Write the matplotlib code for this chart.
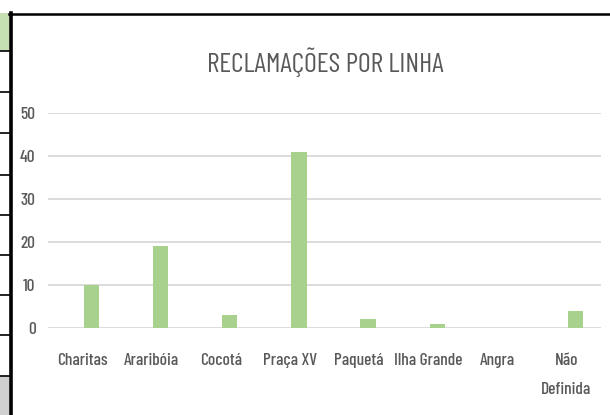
import matplotlib
matplotlib.use("Agg")
import matplotlib.pyplot as plt
from matplotlib.patches import Rectangle
from matplotlib.lines import Line2D

categories = ["Charitas", "Araribóia", "Cocotá", "Praça XV", "Paquetá",
              "Ilha Grande", "Angra", "Não\nDefinida"]
reclamacoes = [10, 19, 3, 41, 2, 1, 0, 4]
y_ticks = [0, 10, 20, 30, 40, 50]

plt.rcParams["font.family"] = ["Barlow Condensed", "Asap Condensed", "DejaVu Sans"]
plt.rcParams["font.weight"] = "medium"

W, H = 610, 415
fig = plt.figure(figsize=(W / 100, H / 100), dpi=100)
fig.patch.set_facecolor("white")

# spreadsheet cells visible to the left of the chart object
cell_rows = [51, 92, 133, 175, 215, 255, 295, 335, 376]
fig.add_artist(Rectangle((0, 1 - 51 / H), 9 / W, (51 - 13) / H,
                         transform=fig.transFigure, color="#c6e0b4", lw=0))
fig.add_artist(Rectangle((0, 0), 9 / W, (H - 376) / H,
                         transform=fig.transFigure, color="#d0d0d0", lw=0))
for yy in cell_rows:
    fig.add_artist(Line2D([0, 9 / W], [1 - yy / H] * 2, transform=fig.transFigure,
                          color="black", lw=1.2))
# chart object border (left and top)
fig.add_artist(Line2D([10.5 / W, 10.5 / W], [0, 1 - 13 / H], transform=fig.transFigure,
                      color="black", lw=2.6))
fig.add_artist(Line2D([9 / W, 1], [1 - 14.5 / H] * 2, transform=fig.transFigure,
                      color="black", lw=1.8))

ax_left, ax_right = 48 / W, 601 / W
ax_bottom, ax_top = 1 - 328 / H, 1 - 113 / H
ax = fig.add_axes([ax_left, ax_bottom, ax_right - ax_left, ax_top - ax_bottom])

x = list(range(len(categories)))
# clustered-column slot: the single series sits right of the category centre
bar_offset = 0.13
ax.bar([xi + bar_offset for xi in x], reclamacoes, width=0.22,
       color="#a9d18e", zorder=3)

ax.set_xlim(-0.5, len(categories) - 0.5)
ax.set_ylim(0, 50)
ax.set_yticks(y_ticks)
ax.set_xticks(x)
ax.set_xticklabels(categories, linespacing=2.15)
ax.tick_params(axis="both", length=0, labelsize=12.5, labelcolor="#595959")
ax.tick_params(axis="y", pad=9)
ax.tick_params(axis="x", pad=18)
ax.grid(axis="y", color="#d9d9d9", lw=1.3, zorder=0)
for s in ax.spines.values():
    s.set_visible(False)

fig.text(325 / W, 1 - 62 / H, "RECLAMAÇÕES POR LINHA", ha="center", va="center",
         fontsize=20, color="#595959", fontweight="normal")

fig.savefig("out.png", dpi=100)
